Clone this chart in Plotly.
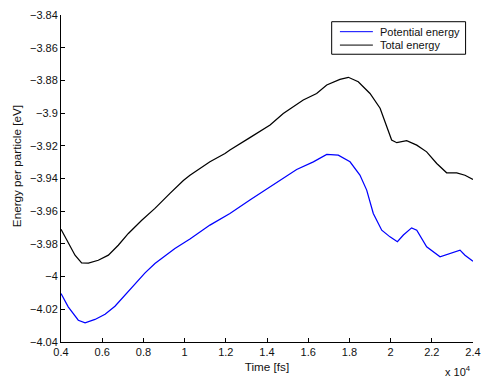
import plotly.graph_objects as go

# Time in units of 10^4 fs
time_total = [0.400, 0.435, 0.468, 0.500, 0.533, 0.581, 0.630, 0.678, 0.727, 0.792,
              0.856, 0.929, 0.994, 1.026, 1.075, 1.123, 1.196, 1.220, 1.317, 1.415,
              1.479, 1.552, 1.576, 1.641, 1.690, 1.754, 1.795, 1.843, 1.900, 1.949,
              1.981, 2.005, 2.030, 2.078, 2.127, 2.175, 2.224, 2.272, 2.321, 2.361, 2.400]
total_energy = [-3.9710, -3.9797, -3.9869, -3.9916, -3.9918, -3.9900, -3.9869, -3.9808, -3.9736, -3.9655,
                -3.9583, -3.9491, -3.9412, -3.9380, -3.9340, -3.9298, -3.9247, -3.9226, -3.9150, -3.9073,
                -3.9002, -3.8940, -3.8920, -3.8880, -3.8828, -3.8794, -3.8781, -3.8808, -3.8880, -3.8970,
                -3.9083, -3.9165, -3.9181, -3.9169, -3.9196, -3.9237, -3.9308, -3.9365, -3.9365, -3.9380, -3.9406]

time_potential = [0.400, 0.435, 0.484, 0.517, 0.565, 0.614, 0.662, 0.711, 0.759, 0.808,
                  0.856, 0.921, 0.953, 0.999, 1.026, 1.123, 1.220, 1.317, 1.415, 1.496,
                  1.544, 1.625, 1.690, 1.746, 1.803, 1.851, 1.884, 1.916, 1.957, 1.997,
                  2.033, 2.062, 2.102, 2.127, 2.175, 2.240, 2.304, 2.337, 2.361, 2.400]
potential_energy = [-4.0103, -4.0185, -4.0267, -4.0283, -4.0262, -4.0230, -4.0181, -4.0114, -4.0042, -3.9977,
                    -3.9920, -3.9858, -3.9828, -3.9792, -3.9770, -3.9685, -3.9614, -3.9532, -3.9451, -3.9385,
                    -3.9345, -3.9298, -3.9253, -3.9257, -3.9298, -3.9379, -3.9471, -3.9614, -3.9716, -3.9757,
                    -3.9787, -3.9746, -3.9702, -3.9716, -3.9818, -3.9879, -3.9849, -3.9838, -3.9869, -3.9906]

series_names = ["Potential energy", "Total energy"]
series_colors = ["#0000ff", "#000000"]

x_tick_vals = [0.4, 0.6, 0.8, 1.0, 1.2, 1.4, 1.6, 1.8, 2.0, 2.2, 2.4]
x_tick_text = ["0.4", "0.6", "0.8", "1", "1.2", "1.4", "1.6", "1.8", "2", "2.2", "2.4"]
y_tick_vals = [-3.84, -3.86, -3.88, -3.90, -3.92, -3.94, -3.96, -3.98, -4.00, -4.02, -4.04]
y_tick_text = ["\u22123.84", "\u22123.86", "\u22123.88", "\u22123.9", "\u22123.92", "\u22123.94",
               "\u22123.96", "\u22123.98", "\u22124", "\u22124.02", "\u22124.04"]

font_family = "Liberation Sans, Arial, sans-serif"
txt_color = "#111"

fig = go.Figure()
for t, e, name, color in [(time_potential, potential_energy, series_names[0], series_colors[0]),
                          (time_total, total_energy, series_names[1], series_colors[1])]:
    fig.add_trace(go.Scatter(x=t, y=e, mode="lines", name=name,
                             line=dict(color=color, width=1.25), showlegend=False))

# Compact MATLAB-style legend box (paper coordinates)
legend_box = dict(x0=0.657, x1=0.982, y0=0.880, y1=0.9795)
legend_rows_y = [0.949, 0.908]
shapes = [dict(type="rect", xref="paper", yref="paper", line=dict(color="black", width=1),
               fillcolor="white", layer="above", **legend_box)]
annotations = []
for name, color, ry in zip(series_names, series_colors, legend_rows_y):
    shapes.append(dict(type="line", xref="paper", yref="paper", x0=0.677, x1=0.757,
                       y0=ry, y1=ry, line=dict(color=color, width=1), layer="above"))
    annotations.append(dict(text=name, xref="paper", yref="paper", x=0.769, y=ry,
                            xanchor="left", yanchor="middle", showarrow=False,
                            font=dict(size=11, color=txt_color)))

annotations += [
    dict(text="x 10<sup>4</sup>", xref="paper", yref="paper",
         x=1.0, y=-0.09, xanchor="right", yanchor="middle",
         showarrow=False, font=dict(size=11, color=txt_color)),
    dict(text="Energy per particle [eV]", xref="paper", yref="paper",
         x=-0.109, y=0.538, xanchor="center", yanchor="middle", textangle=-90,
         showarrow=False, font=dict(size=11.7, color=txt_color)),
]

fig.update_layout(
    width=483, height=381,
    margin=dict(l=61, r=10, t=15, b=39, autoexpand=False),
    paper_bgcolor="white", plot_bgcolor="white",
    font=dict(family=font_family, size=11, color=txt_color),
    showlegend=False,
    xaxis=dict(range=[0.4, 2.4], tickvals=x_tick_vals, ticktext=x_tick_text,
               showgrid=False, zeroline=False, showline=True, linecolor="black",
               linewidth=1, ticks="inside", ticklen=4, tickcolor="black",
               title=dict(text="Time [fs]", font=dict(size=11.7), standoff=5)),
    yaxis=dict(range=[-4.04, -3.84], tickvals=y_tick_vals, ticktext=y_tick_text,
               showgrid=False, zeroline=False, showline=True, linecolor="black",
               linewidth=1, ticks="inside", ticklen=4, tickcolor="black"),
    shapes=shapes,
    annotations=annotations,
)

fig.write_html("out.html",
               config={"displayModeBar": False},
               post_script="document.body.style.margin='0';document.body.style.overflow='hidden';")
